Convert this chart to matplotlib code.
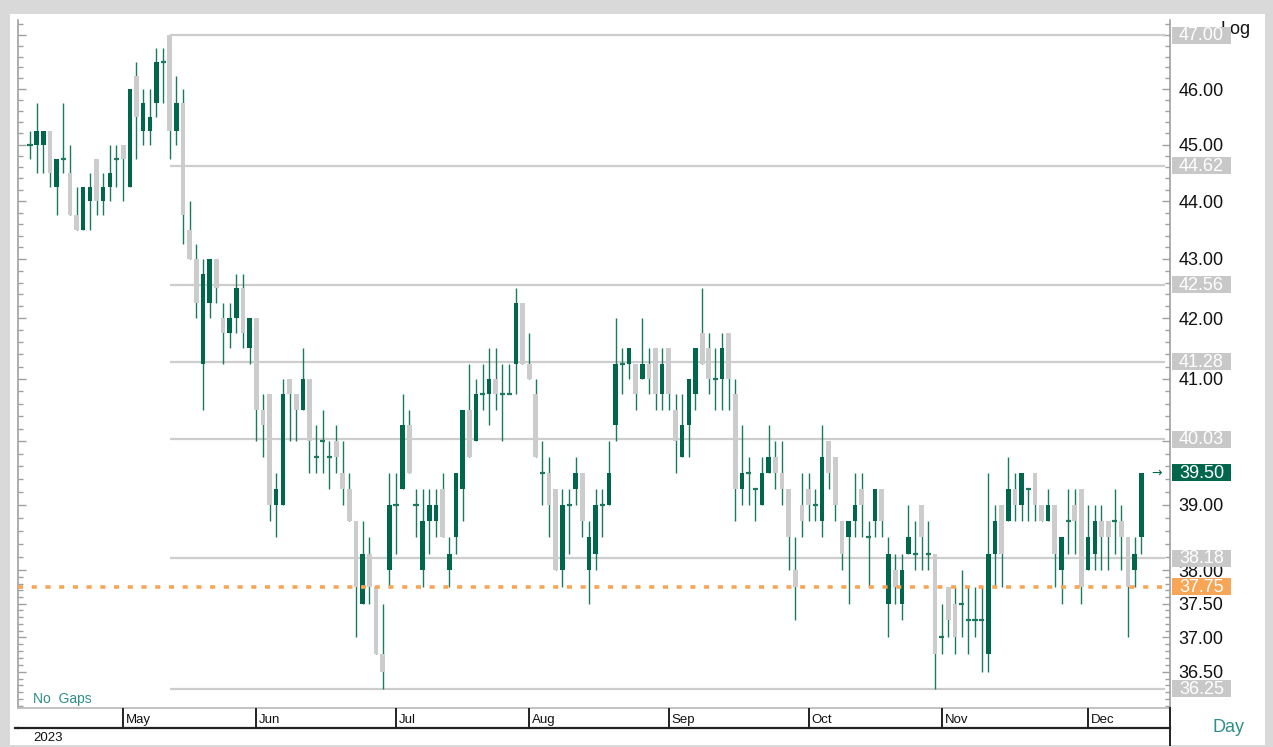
import numpy as np
import matplotlib
matplotlib.use("Agg")
import matplotlib.pyplot as plt
from matplotlib.ticker import FixedLocator, FuncFormatter, NullFormatter
from matplotlib.lines import Line2D
from matplotlib.patches import Rectangle
import matplotlib.transforms as mtrans

plt.rcParams['font.family'] = ['Liberation Sans', 'DejaVu Sans']

# ---------------- data (daily candles, 2023) ----------------
opens = [45.0, 45.0, 45.0, 45.25, 44.25, 44.75, 44.5, 43.75, 43.5, 44.0,
         44.75, 44.0, 44.25, 44.75, 45.0, 44.25, 46.25, 45.25, 45.25, 45.75,
         46.5, 47.0, 45.25, 45.75, 43.5, 43.0, 41.25, 42.25, 43.0, 42.0,
         41.75, 42.0, 42.5, 41.5, 42.0, 40.5, 40.75, 39.0, 39.0, 41.0,
         40.75, 40.5, 41.0, 39.75, 40.0, 39.75, 40.0, 39.5, 39.25, 38.75,
         37.5, 38.25, 37.75, 36.75, 38.0, 39.0, 39.25, 40.25, 39.0, 38.0,
         38.75, 38.75, 39.25, 38.0, 38.5, 39.25, 40.5, 40.0, 40.75, 40.75,
         41.0, 40.75, 40.75, 41.25, 42.25, 41.25, 40.75, 39.5, 39.5, 39.25,
         38.0, 39.0, 39.25, 39.5, 38.0, 38.25, 39.0, 39.0, 40.25, 41.25,
         41.25, 41.25, 41.0, 41.25, 41.5, 40.75, 41.5, 40.5, 39.75, 40.25,
         40.75, 41.75, 41.5, 41.0, 41.0, 41.75, 40.75, 39.25, 39.5, 39.25,
         39.0, 39.5, 39.75, 39.5, 39.25, 38.0, 39.0, 39.25, 39.0, 38.75,
         40.0, 39.75, 38.75, 38.5, 38.75, 39.25, 38.5, 38.75, 39.25, 37.5,
         38.0, 37.5, 38.25, 38.25, 39.0, 38.25, 38.25, 37.0, 37.75, 37.5,
         37.5, 37.25, 37.25, 37.25, 36.75, 38.25, 39.0, 38.75, 39.25, 39.0,
         39.25, 39.5, 39.0, 38.75, 39.0, 38.0, 38.75, 39.0, 39.25, 38.0,
         38.25, 38.75, 38.75, 38.75, 38.75, 38.5, 38.0, 38.5]
highs = [45.25, 45.75, 45.25, 45.25, 44.75, 45.75, 45.0, 44.25, 44.25, 44.5,
         44.75, 44.5, 45.0, 45.0, 45.0, 46.0, 46.5, 46.0, 46.0, 46.75,
         46.75, 47.0, 46.25, 46.0, 44.0, 43.25, 43.0, 43.0, 43.0, 42.25,
         42.25, 42.75, 42.75, 42.0, 42.0, 40.75, 40.75, 39.5, 41.0, 41.0,
         40.75, 41.5, 41.0, 40.25, 40.5, 40.0, 40.25, 40.0, 39.5, 38.75,
         38.75, 38.5, 37.75, 37.5, 39.5, 39.5, 40.75, 40.5, 39.25, 39.25,
         39.25, 39.25, 39.5, 38.5, 39.5, 40.5, 41.25, 41.0, 41.25, 41.5,
         41.5, 41.25, 41.25, 42.5, 42.25, 41.75, 41.0, 40.0, 39.75, 39.25,
         39.25, 39.25, 39.75, 39.5, 38.75, 39.25, 39.25, 40.0, 42.0, 41.5,
         41.5, 41.25, 42.0, 41.5, 41.5, 41.5, 41.5, 40.75, 40.75, 41.0,
         41.5, 42.5, 41.75, 41.5, 41.75, 41.75, 41.0, 40.25, 39.75, 39.25,
         39.75, 40.25, 40.0, 40.0, 39.25, 38.5, 39.5, 39.5, 39.25, 40.25,
         40.0, 39.75, 38.75, 38.75, 39.5, 39.5, 38.75, 39.25, 39.25, 38.5,
         38.25, 38.25, 39.0, 38.75, 39.0, 38.75, 38.25, 37.5, 37.75, 37.75,
         38.0, 37.75, 37.75, 37.75, 39.5, 39.0, 39.0, 39.75, 39.5, 39.5,
         39.25, 39.5, 39.0, 39.25, 39.0, 38.5, 39.25, 39.25, 39.25, 39.0,
         39.0, 39.0, 38.75, 39.25, 39.0, 38.5, 38.5, 39.5]
lows = [44.75, 44.5, 44.5, 44.25, 43.75, 44.5, 43.75, 43.5, 43.5, 43.5,
        43.75, 43.75, 44.0, 44.25, 44.0, 44.25, 44.75, 45.0, 45.0, 45.5,
        45.75, 44.75, 45.0, 43.25, 43.0, 42.0, 40.5, 42.0, 42.25, 41.25,
        41.5, 41.75, 41.5, 41.25, 40.0, 39.75, 38.75, 38.5, 39.0, 40.0,
        40.0, 40.5, 39.5, 39.5, 39.5, 39.25, 39.5, 39.0, 38.75, 37.0,
        37.5, 37.5, 36.75, 36.25, 37.75, 38.25, 39.25, 39.5, 38.5, 37.75,
        38.25, 38.5, 38.5, 37.75, 38.25, 38.75, 39.75, 40.0, 40.5, 40.25,
        40.5, 40.0, 40.75, 40.75, 41.25, 41.0, 39.75, 39.0, 38.5, 38.0,
        37.75, 38.25, 39.0, 38.5, 37.5, 38.0, 38.5, 39.0, 40.0, 40.75,
        41.0, 40.5, 41.0, 40.75, 40.5, 40.5, 40.5, 39.5, 39.75, 39.75,
        40.5, 41.25, 40.75, 40.5, 40.5, 40.5, 38.75, 39.0, 39.0, 38.75,
        39.0, 39.5, 39.25, 39.0, 38.0, 37.25, 38.5, 38.75, 38.75, 38.5,
        39.25, 38.75, 38.0, 37.5, 38.5, 38.5, 37.75, 38.5, 38.5, 37.0,
        37.5, 37.25, 38.25, 38.0, 38.0, 38.0, 36.25, 36.75, 37.0, 36.75,
        37.0, 36.75, 37.0, 36.5, 36.5, 37.75, 37.75, 38.75, 38.75, 38.75,
        38.75, 38.75, 38.75, 38.75, 37.75, 37.5, 38.25, 38.25, 37.5, 38.0,
        38.0, 38.0, 38.0, 38.25, 38.0, 37.0, 37.75, 38.25]
closes = [45.0, 45.25, 45.25, 44.5, 44.75, 44.75, 43.75, 43.5, 44.25, 44.25,
          44.0, 44.25, 44.5, 44.75, 44.75, 46.0, 45.5, 45.75, 45.5, 46.5,
          46.5, 45.25, 45.75, 43.75, 43.0, 42.25, 42.75, 43.0, 42.5, 41.75,
          42.0, 42.5, 41.75, 42.0, 40.5, 40.25, 39.0, 39.25, 40.75, 40.75,
          40.5, 41.0, 40.0, 39.75, 40.0, 39.75, 39.75, 39.25, 38.75, 37.75,
          38.25, 37.75, 36.75, 36.5, 39.0, 39.0, 40.25, 39.5, 39.0, 38.75,
          39.0, 39.0, 38.5, 38.25, 39.5, 40.5, 39.75, 40.75, 40.75, 41.0,
          40.75, 40.75, 40.75, 42.25, 41.25, 41.0, 39.75, 39.5, 39.0, 38.0,
          39.0, 39.0, 39.5, 38.75, 38.5, 39.0, 39.0, 39.5, 41.25, 41.25,
          41.5, 40.75, 41.25, 41.0, 40.75, 41.25, 40.75, 40.0, 40.25, 41.0,
          41.5, 41.25, 41.0, 41.0, 41.5, 41.0, 39.25, 39.5, 39.5, 39.25,
          39.5, 39.75, 39.5, 39.25, 38.5, 37.75, 38.75, 39.0, 39.0, 39.75,
          39.5, 39.0, 38.25, 38.75, 39.0, 39.0, 38.5, 39.25, 38.75, 38.25,
          37.75, 38.0, 38.5, 38.25, 38.5, 38.25, 36.75, 37.0, 37.25, 37.0,
          37.5, 37.25, 37.25, 37.25, 38.25, 38.75, 38.25, 39.25, 39.0, 39.5,
          39.25, 39.0, 38.75, 39.0, 38.25, 38.5, 38.75, 38.75, 37.75, 38.5,
          38.75, 38.5, 38.5, 38.75, 38.5, 37.75, 38.25, 39.5]

month_labels = ["May", "Jun", "Jul", "Aug", "Sep", "Oct", "Nov", "Dec"]
month_start_idx = [14, 34, 55, 75, 96, 117, 137, 159]
year_label = "2023"

level_lines = [47.00, 44.62, 42.56, 41.28, 40.03, 38.18, 36.25]
support_level = 37.75
last_price = 39.50

major_ticks = [36.5, 37.0, 37.5, 38, 39, 40, 41, 42, 43, 44, 45, 46, 47]

# ---------------- styling ----------------
W, H = 1273, 747
GREEN = "#00664C"
WICK = "#1B7A5E"
GRAYC = "#CCCCCC"
LINEG = "#CDCDCD"
ORANGE = "#F7A556"
TEAL = "#2E8F8A"

O = np.array(opens); Hh = np.array(highs); L = np.array(lows); C = np.array(closes)
n = len(O)
x = np.arange(n)

fig = plt.figure(figsize=(W / 100, H / 100), dpi=100, facecolor="#D9D9D9")
fig.patches.append(Rectangle((10 / W, 2 / H), (1265 - 10) / W, 731 / H,
                             transform=fig.transFigure, facecolor="white",
                             edgecolor="none", zorder=-10))

def fx(px):
    return px / W

def fy(py):
    return 1 - py / H

ax_l, ax_r, ax_t, ax_b = 18, 1170, 20, 708
ax = fig.add_axes([fx(ax_l), fy(ax_b), (ax_r - ax_l) / W, (ax_b - ax_t) / H])
ax.set_zorder(2)
ax.set_facecolor("none")
ax.set_yscale("log")
ax.set_ylim(35.977, 47.281)
ax.set_xlim(-1.8, 171.3)

# candles
ax.vlines(x, L, Hh, color=WICK, lw=1.0, zorder=3)
up = C > O
dn = C < O
dj = C == O
ax.bar(x[up], (C - O)[up], bottom=O[up], width=0.68, color=GREEN, zorder=4, linewidth=0)
ax.bar(x[dn], (O - C)[dn], bottom=C[dn], width=0.72, color=GRAYC, zorder=4, linewidth=0)
ax.hlines(O[dj], x[dj] - 0.38, x[dj] + 0.38, color=WICK, lw=1.6, zorder=4)

# level lines starting from the top candle
start = int(np.argmax(Hh))
ax.hlines(level_lines, start, 170.5, color=LINEG, lw=1.6, zorder=2)
ax.hlines(support_level, -1.8, 170.5, color=ORANGE, lw=2.6,
          linestyles=(0, (1.4, 2.4)), zorder=5)

# axis ticks
minors = [round(v, 2) for v in np.arange(36.0, 38.0, 0.1)] + \
         [round(v, 2) for v in np.arange(38.0, 47.3, 0.2)]
minors = [m for m in minors if all(abs(m - t) > 1e-6 for t in major_ticks)]
ax.yaxis.set_major_locator(FixedLocator(major_ticks))
ax.yaxis.set_minor_locator(FixedLocator(minors))
ax.yaxis.set_major_formatter(FuncFormatter(lambda v, p: "" if v >= 46.9 else f"{v:.2f}"))
ax.yaxis.set_minor_formatter(NullFormatter())
ax.tick_params(axis="y", which="both", left=True, right=True, labelleft=False,
               labelright=True, direction="in", color="#A0A0A0")
ax.tick_params(axis="y", which="major", length=6, width=1.0, labelsize=13,
               pad=6, labelcolor="#111111")
ax.tick_params(axis="y", which="minor", length=3.5, width=1.0)
ax.set_xticks([])
for s in ["left", "right"]:
    ax.spines[s].set_color("#A0A0A0")
    ax.spines[s].set_linewidth(1.2)
ax.spines["top"].set_visible(False)
ax.spines["bottom"].set_color("#B8B8B8")
ax.spines["bottom"].set_linewidth(1.2)

# right-axis value boxes (drawn in pixel space, centred on the value)
box_x0, box_x1, box_h = 1172, 1231, 17
ident = mtrans.IdentityTransform()

def value_box(v, fc):
    ydisp = ax.transData.transform((0, v))[1]
    top_limit = H - 22  # keep the top box inside the panel
    yc = min(ydisp, top_limit - box_h / 2)
    rect = Rectangle((box_x0, yc - box_h / 2), box_x1 - box_x0, box_h,
                     transform=ident, facecolor=fc, edgecolor="none",
                     zorder=9, clip_on=False)
    ax.add_artist(rect)
    ax.text((box_x0 + box_x1) / 2, yc - 0.5, f"{v:.2f}", transform=ident,
            ha="center", va="center", fontsize=13, color="white", zorder=10,
            clip_on=False)

fig.text(fx(1220), fy(30), "Log", fontsize=13, color="#111111", va="center",
         ha="left", zorder=1)
for v in level_lines:
    value_box(v, "#C8C8C8")
value_box(support_level, ORANGE)
value_box(last_price, GREEN)

trans = mtrans.blended_transform_factory(ax.transAxes, ax.transData)
ax.text((1157 - ax_l) / (ax_r - ax_l), last_price, "\u2192", transform=trans,
        ha="center", va="center", fontsize=9, color=GREEN, zorder=10,
        family="DejaVu Sans")

fig.text(fx(33), fy(699), "No  Gaps", fontsize=10, color=TEAL, va="center", ha="left")

# date band
ax2 = fig.add_axes([fx(ax_l), fy(728), (ax_r - ax_l) / W, 20 / H])
ax2.set_zorder(2)
ax2.set_xlim(ax.get_xlim())
ax2.set_ylim(0, 1)
ax2.set_xticks([]); ax2.set_yticks([])
ax2.set_facecolor("none")
for s in ["left", "top"]:
    ax2.spines[s].set_visible(False)
ax2.spines["bottom"].set_color("#222222")
ax2.spines["bottom"].set_linewidth(1.6)
ax2.spines["right"].set_color("#222222")
ax2.spines["right"].set_linewidth(1.4)
ax2.vlines(month_start_idx, 0, 1, color="#222222", lw=1.4)
for idx, lab in zip(month_start_idx, month_labels):
    ax2.text(idx + 0.45, 0.42, lab, fontsize=9.5, va="center", ha="left",
             color="#111111")

fig.add_artist(Line2D([fx(15), fx(ax_l)], [fy(728), fy(728)], color="#222222", lw=1.6))
fig.add_artist(Line2D([fx(ax_r), fx(ax_r)], [fy(728), fy(745)], color="#222222", lw=1.4))
fig.text(fx(33), fy(738), year_label, fontsize=9.5, color="#111111", va="center", ha="left")
fig.text(fx(1213), fy(727), "Day", fontsize=13, color=TEAL, va="center", ha="left")

fig.savefig("out.png", dpi=100, facecolor=fig.get_facecolor())
